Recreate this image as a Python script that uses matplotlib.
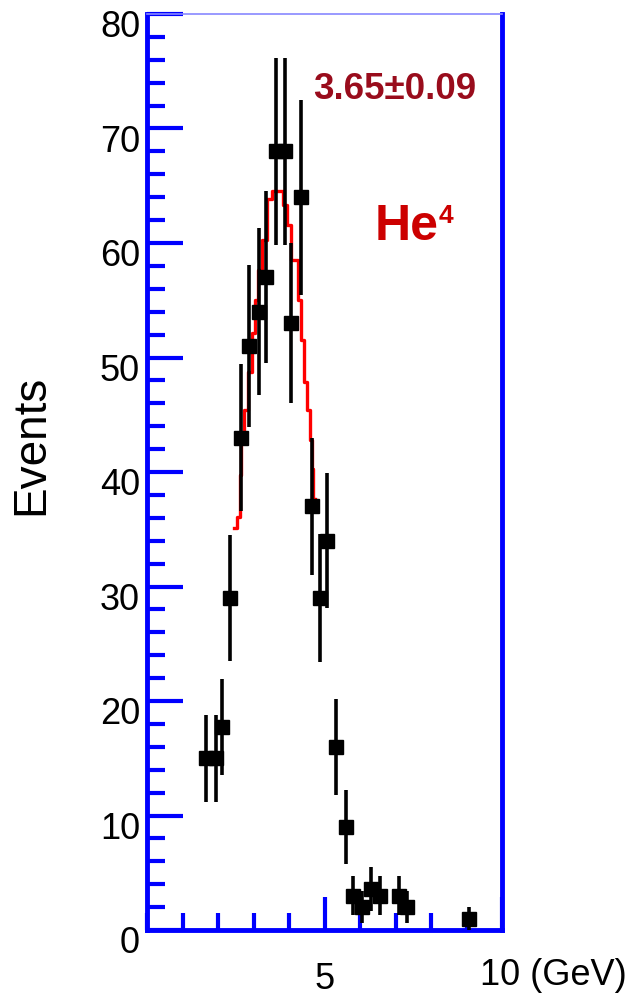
import matplotlib
matplotlib.use('Agg')
import matplotlib.pyplot as plt
from matplotlib.ticker import MultipleLocator, FixedLocator
from matplotlib.transforms import ScaledTranslation

plt.rcParams['font.family'] = ['Liberation Sans', 'DejaVu Sans']

# measured data points
energy = [1.66, 1.94, 2.11, 2.34, 2.65, 2.87, 3.15, 3.35, 3.63, 3.89, 4.06, 4.34,
          4.65, 4.87, 5.07, 5.32, 5.61, 5.80, 6.06, 6.31, 6.56, 7.10, 7.32, 9.07]
events = [15, 15, 17.7, 29, 43, 51, 54, 57, 68, 68, 53, 64,
          37, 29, 34, 16, 9, 3, 2, 3.6, 3, 3, 2, 1]
errors = [3.8, 3.8, 4.2, 5.5, 6.4, 7.1, 7.3, 7.5, 8.2, 8.2, 7.0, 8.5,
          6.0, 5.6, 5.9, 4.2, 3.2, 1.7, 1.4, 1.9, 1.7, 1.7, 1.4, 1.0]

# fit curve
fit_x = [2.45, 2.62, 2.62, 2.68, 2.79, 2.90, 2.99, 3.07, 3.18, 3.32, 3.46, 3.61,
         3.75, 3.89, 3.97, 4.17, 4.31, 4.39, 4.48, 4.54, 4.62, 4.65, 4.73]
fit_y = [35.1, 36.1, 39.7, 42.8, 45.4, 48.7, 52.1, 55.0, 57.6, 60.3, 63.8, 64.5,
         64.5, 63.3, 61.6, 58.5, 55.0, 51.5, 47.9, 45.4, 42.8, 40.3, 37.6]

y_ticks = [0, 10, 20, 30, 40, 50, 60, 70, 80]
x_ticks = [5, 10]
x_tick_labels = ['5', '10 (GeV)']

fig = plt.figure(figsize=(6.28, 9.96), dpi=100)
ax = fig.add_axes([147/628, 1-930/996, (502-147)/628, (930-14)/996])

ax.plot(fit_x, fit_y, color='#ff0000', lw=2.4, zorder=2, drawstyle='steps-mid')
ax.errorbar(energy, events, yerr=errors, xerr=0.12, fmt='s', color='black',
            ms=10, elinewidth=2.6, capsize=0, zorder=3)

ax.set_xlim(0, 10)
ax.set_ylim(0, 80)

blue = '#0000ff'
for side in ['left', 'bottom', 'right']:
    ax.spines[side].set_color(blue)
    ax.spines[side].set_linewidth(3.5)
ax.spines['top'].set_color('#8888ff')
ax.spines['top'].set_linewidth(1.2)

ax.yaxis.set_major_locator(FixedLocator(y_ticks))
ax.yaxis.set_minor_locator(MultipleLocator(2))
ax.xaxis.set_major_locator(FixedLocator(x_ticks))
ax.xaxis.set_minor_locator(MultipleLocator(1))
ax.set_xticklabels(x_tick_labels)

ax.tick_params(axis='y', which='major', direction='in', length=26, width=3,
               color=blue, labelsize=26, pad=5)
ax.tick_params(axis='y', which='minor', direction='in', length=13, width=3,
               color=blue)
ax.tick_params(axis='x', which='major', direction='in', length=24, width=3,
               color=blue, labelsize=26, pad=23)
ax.tick_params(axis='x', which='minor', direction='in', length=12, width=3,
               color=blue)

off = ScaledTranslation(0, -7/72, fig.dpi_scale_trans)
for lab in ax.get_yticklabels():
    lab.set_transform(lab.get_transform() + off)
xl = ax.get_xticklabels()
xl[1].set_horizontalalignment('left')
xl[1].set_transform(xl[1].get_transform() + ScaledTranslation(-16/72, 3/72, fig.dpi_scale_trans))

ax.set_ylabel('Events', fontsize=33)
ax.yaxis.set_label_coords(-0.265, 0.53)

ax.text(6.99, 73.4, '3.65±0.09', color='#990c1c', fontsize=26.5, fontweight='bold',
        ha='center', va='center')
ax.text(6.42, 60.3, 'He', color='#cc0000', fontsize=36, fontweight='bold',
        ha='left', va='baseline')
ax.text(8.22, 63.4, '4', color='#cc0000', fontsize=19, fontweight='bold',
        ha='left', va='top')

fig.savefig('out.png', dpi=100)
